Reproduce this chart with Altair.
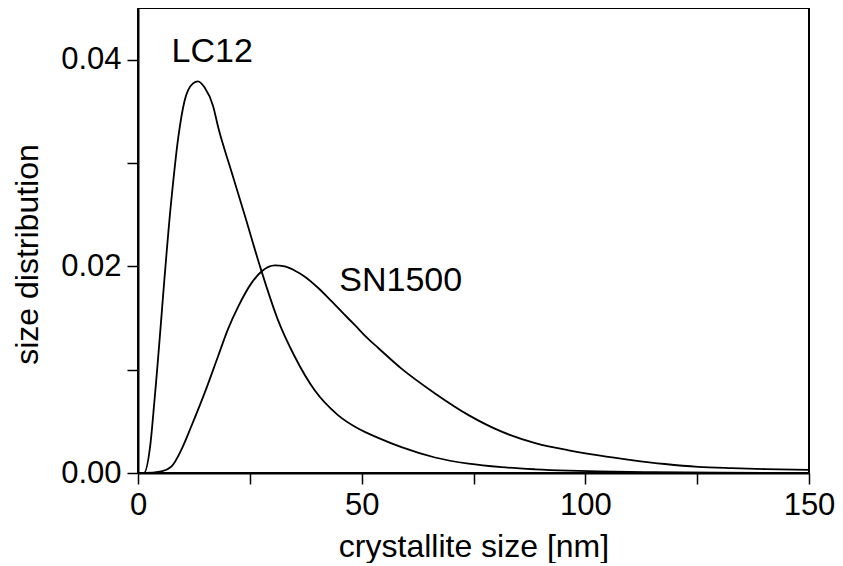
import altair as alt
import pandas as pd

# LC12 curve
lc12_x = [0, 1.3, 2.8, 3.7, 7.45, 8.95, 10.4, 12.3, 13.4, 14.9, 16.8, 17.9, 20.8, 23.9,
          27.2, 31.3, 35.0, 39.5, 44.7, 49.2, 53.7, 58.9, 66.4, 73.9, 81.3, 88.8,
          96.3, 103, 115, 130, 150]
lc12_y = [0, 0, 0.0029, 0.0071, 0.0264, 0.0323, 0.0360, 0.0377, 0.0379, 0.0373, 0.0355,
          0.0335, 0.0293, 0.0249, 0.0201, 0.0148, 0.0113, 0.0080, 0.0056, 0.0043,
          0.0034, 0.0025, 0.0015, 0.0009, 0.00056, 0.00036, 0.00023, 0.00015, 0.00008,
          0.00003, 0.00001]

# SN1500 curve
sn_x = [0, 1.5, 5.2, 7.5, 9.7, 11.9, 14.9, 17.9, 20.1, 22.4, 25.4, 27.6, 30.6, 32.8, 35.0,
        37.3, 40.3, 43.3, 46.0, 48.5, 51.4, 53.7, 58.9, 66.4, 73.9, 81.3, 88.8, 96.3, 103,
        110.3, 117.8, 125.2, 132.7, 140.2, 150]
sn_y = [0, 0, 0.00016, 0.00064, 0.00226, 0.0045, 0.00775, 0.0113, 0.0139, 0.0161, 0.0184,
        0.0195, 0.0201, 0.0200, 0.0196, 0.0190, 0.0179, 0.0166, 0.0154, 0.0143, 0.0130,
        0.0121, 0.0101, 0.0077, 0.0056, 0.0040, 0.0029, 0.0022, 0.0017, 0.00125, 0.00087,
        0.0006, 0.00047, 0.00038, 0.0003]

# curve labels
label_text = ["LC12", "SN1500"]
label_x = [7.5, 45.0]
label_y = [0.0398, 0.0176]

x_ticks = [0, 25, 50, 75, 100, 125, 150]
y_ticks = [0, 0.01, 0.02, 0.03, 0.04]

FONT = "Liberation Sans"

df = pd.concat([
    pd.DataFrame({"x": lc12_x, "y": lc12_y, "s": "LC12"}),
    pd.DataFrame({"x": sn_x, "y": sn_y, "s": "SN1500"}),
])
lab = pd.DataFrame({"t": label_text, "x": label_x, "y": label_y})

xs = alt.Scale(domain=[0, 150], nice=False, zero=False)
ys = alt.Scale(domain=[0, 0.045], nice=False)

common = dict(grid=False, tickSize=11, labelPadding=6, titleFontSize=32, labelFontSize=31,
              titleFontWeight="normal", labelFont=FONT, titleFont=FONT, labelFlush=False,
              labelColor="black", titleColor="black", domainColor="black",
              domainWidth=2, tickColor="black", tickWidth=1.5)
x_axis = alt.Axis(title="crystallite size [nm]", values=x_ticks,
                  labelExpr="datum.value % 50 == 0 ? datum.label : ''",
                  titleY=83, titleBaseline="alphabetic", **common)
y_axis = alt.Axis(title="size distribution", values=y_ticks,
                  labelExpr="round(datum.value*100) % 2 == 0 ? format(datum.value, '.2f') : ''",
                  titleX=-111, titleY=246, titleBaseline="middle", **common)

lines = alt.Chart(df).mark_line(color="black", strokeWidth=1.8, interpolate="monotone", clip=True).encode(
    x=alt.X("x:Q", scale=xs, axis=x_axis),
    y=alt.Y("y:Q", scale=ys, axis=y_axis),
    detail="s:N",
)

texts = alt.Chart(lab).mark_text(align="left", baseline="alphabetic", fontSize=34,
                                 font=FONT, color="black").encode(
    x=alt.X("x:Q", scale=xs, axis=x_axis), y=alt.Y("y:Q", scale=ys, axis=y_axis), text="t:N")

chart = (lines + texts).properties(
    width=671, height=465,
    background="white",
    autosize=alt.AutoSizeParams(type="none"),
    padding={"left": 130, "top": 0, "right": 26, "bottom": 90},
).configure_view(stroke="black", strokeWidth=2).configure_axis(grid=False)

chart.save("out.html", embed_options={"renderer": "svg", "actions": False})
